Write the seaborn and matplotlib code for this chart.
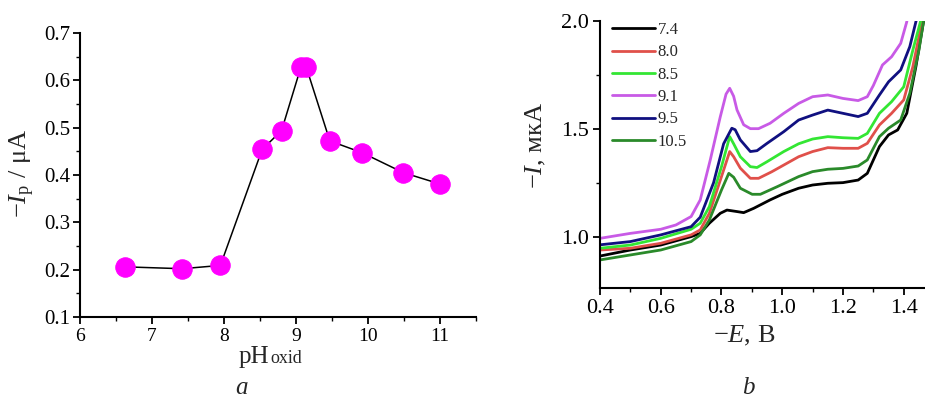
import numpy as np
import pandas as pd
import matplotlib
matplotlib.use('Agg')
import matplotlib.pyplot as plt
import seaborn as sns
from matplotlib.ticker import MultipleLocator

# ---------------- data: panel a ----------------
ph_oxid = [6.62, 7.42, 7.95, 8.53, 8.80, 9.07, 9.14, 9.47, 9.92, 10.49, 11.0]
ip_uA = [0.206, 0.202, 0.209, 0.454, 0.494, 0.629, 0.629, 0.472, 0.447, 0.405, 0.381]

# ---------------- data: panel b ----------------
ph_labels = ['7.4', '8.0', '8.5', '9.1', '9.5', '10.5']
curve_colors = ['#000000', '#e0504a', '#33e633', '#c85ae6', '#101080', '#2a8a2a']

E_74 = [0.40, 0.50, 0.60, 0.70, 0.73, 0.76, 0.796, 0.818, 0.851, 0.873, 0.906, 0.96, 1.00, 1.054, 1.10, 1.15, 1.20, 1.25, 1.28, 1.32, 1.35, 1.38, 1.41, 1.44, 1.465, 1.47]
I_74 = [0.910, 0.938, 0.961, 1.000, 1.015, 1.062, 1.108, 1.123, 1.116, 1.111, 1.131, 1.170, 1.196, 1.224, 1.239, 1.247, 1.250, 1.262, 1.293, 1.417, 1.471, 1.494, 1.571, 1.787, 1.995, 2.05]

E_80 = [0.40, 0.50, 0.60, 0.70, 0.73, 0.76, 0.80, 0.827, 0.84, 0.862, 0.895, 0.922, 0.965, 1.054, 1.10, 1.15, 1.20, 1.25, 1.28, 1.32, 1.36, 1.40, 1.43, 1.46, 1.47]
I_80 = [0.938, 0.946, 0.969, 1.008, 1.031, 1.108, 1.278, 1.394, 1.370, 1.317, 1.270, 1.270, 1.300, 1.370, 1.394, 1.412, 1.409, 1.409, 1.432, 1.517, 1.571, 1.633, 1.787, 1.995, 2.05]

E_85 = [0.40, 0.50, 0.60, 0.70, 0.73, 0.76, 0.80, 0.827, 0.84, 0.862, 0.895, 0.917, 0.95, 1.005, 1.054, 1.10, 1.15, 1.20, 1.25, 1.28, 1.32, 1.36, 1.40, 1.43, 1.455, 1.465]
I_85 = [0.946, 0.961, 0.992, 1.034, 1.062, 1.139, 1.324, 1.463, 1.430, 1.370, 1.324, 1.320, 1.347, 1.394, 1.430, 1.452, 1.463, 1.458, 1.455, 1.478, 1.571, 1.625, 1.694, 1.864, 1.995, 2.05]

E_91 = [0.40, 0.50, 0.60, 0.65, 0.70, 0.73, 0.763, 0.796, 0.815, 0.827, 0.84, 0.851, 0.873, 0.895, 0.922, 0.96, 1.005, 1.054, 1.10, 1.15, 1.20, 1.25, 1.28, 1.30, 1.33, 1.36, 1.39, 1.41, 1.415]
I_91 = [0.992, 1.015, 1.034, 1.054, 1.093, 1.170, 1.355, 1.555, 1.660, 1.687, 1.650, 1.587, 1.518, 1.500, 1.500, 1.525, 1.571, 1.617, 1.648, 1.656, 1.640, 1.630, 1.648, 1.700, 1.795, 1.833, 1.895, 1.995, 2.05]

E_95 = [0.40, 0.50, 0.60, 0.70, 0.73, 0.774, 0.807, 0.834, 0.845, 0.862, 0.895, 0.917, 0.95, 1.005, 1.054, 1.10, 1.15, 1.20, 1.25, 1.28, 1.32, 1.35, 1.39, 1.42, 1.44, 1.45]
I_95 = [0.962, 0.977, 1.008, 1.046, 1.090, 1.250, 1.430, 1.502, 1.495, 1.448, 1.394, 1.398, 1.432, 1.486, 1.540, 1.563, 1.586, 1.571, 1.556, 1.571, 1.656, 1.717, 1.772, 1.880, 1.995, 2.05]

E_105 = [0.40, 0.50, 0.60, 0.70, 0.73, 0.76, 0.80, 0.824, 0.84, 0.862, 0.901, 0.928, 0.983, 1.054, 1.10, 1.15, 1.20, 1.25, 1.28, 1.32, 1.35, 1.39, 1.42, 1.45, 1.465, 1.47]
I_105 = [0.892, 0.915, 0.938, 0.977, 1.008, 1.077, 1.216, 1.293, 1.275, 1.224, 1.196, 1.196, 1.231, 1.278, 1.301, 1.312, 1.316, 1.327, 1.355, 1.463, 1.502, 1.540, 1.664, 1.864, 1.995, 2.05]

curves_E = [E_74, E_80, E_85, E_91, E_95, E_105]
curves_I = [I_74, I_80, I_85, I_91, I_95, I_105]

# ---------------- style ----------------
sns.set_style('ticks')
plt.rcParams['font.family'] = ['Liberation Serif', 'DejaVu Serif']
plt.rcParams['mathtext.fontset'] = 'custom'
plt.rcParams['mathtext.rm'] = 'Liberation Serif'
plt.rcParams['mathtext.it'] = 'Liberation Serif:italic'
plt.rcParams['axes.linewidth'] = 1.5
plt.rcParams['xtick.major.width'] = 1.3
plt.rcParams['ytick.major.width'] = 1.3
plt.rcParams['xtick.minor.width'] = 1.0
plt.rcParams['ytick.minor.width'] = 1.0
plt.rcParams['xtick.major.size'] = 5
plt.rcParams['ytick.major.size'] = 5
plt.rcParams['xtick.minor.size'] = 3
plt.rcParams['ytick.minor.size'] = 3
plt.rcParams['xtick.color'] = 'black'
plt.rcParams['ytick.color'] = 'black'
plt.rcParams['axes.edgecolor'] = 'black'
plt.rcParams['lines.solid_joinstyle'] = 'round'

fig = plt.figure(figsize=(9.25, 4.0), dpi=100)

# ---------------- panel a ----------------
ax1 = fig.add_axes([80 / 925, 1 - 317 / 400, (476 - 80) / 925, (317 - 33) / 400])
sns.lineplot(x=ph_oxid, y=ip_uA, ax=ax1, color='black', lw=1.1, estimator=None, sort=False,
             marker='o', markersize=14, markerfacecolor='#ff00ff', markeredgecolor='#ff00ff')
ax1.set_xlim(6, 11.5)
ax1.set_ylim(0.1, 0.7)
ax1.xaxis.set_major_locator(MultipleLocator(1))
ax1.xaxis.set_minor_locator(MultipleLocator(0.5))
ax1.yaxis.set_minor_locator(MultipleLocator(0.05))
ax1.set_yticks([0.1, 0.2, 0.3, 0.4, 0.5, 0.6, 0.7])
ax1.set_yticklabels(['0.1', '0.2', '0.3', '0.4', '0.5', '0.6', '0.7'])
ax1.tick_params(axis='y', which='major', labelsize=15, pad=2)
ax1.tick_params(axis='x', which='major', labelsize=14, pad=3)
ax1.set_xlabel('')
ax1.set_ylabel(r'$-I_{\rm p}$ / μA', fontsize=19)
ax1.yaxis.set_label_coords(-0.108, 0.505)
sns.despine(ax=ax1)
fig.text(269 / 925, 1 - 363 / 400, 'pH', ha='right', va='baseline', fontsize=18)
fig.text(270 / 925, 1 - 363 / 400, 'oxid', ha='left', va='baseline', fontsize=13)
fig.text(242 / 925, 1 - 394 / 400, 'a', ha='center', va='baseline', fontsize=18, style='italic')

# ---------------- panel b ----------------
ax2 = fig.add_axes([600 / 925, 1 - 288 / 400, (925 - 600) / 925, (288 - 20.7) / 400])
frames = []
for lab, e, i in zip(ph_labels, curves_E, curves_I):
    frames.append(pd.DataFrame({'E': e, 'I': i, 'pH': lab}))
df = pd.concat(frames, ignore_index=True)
palette = dict(zip(ph_labels, curve_colors))
sns.lineplot(data=df, x='E', y='I', hue='pH', hue_order=ph_labels, palette=palette,
             estimator=None, sort=False, lw=2.0, ax=ax2)
ax2.set_xlim(0.4, 1.47)
ax2.set_ylim(0.762, 2.0)
ax2.set_yticks([1.0, 1.5, 2.0])
ax2.set_yticklabels(['1.0', '1.5', '2.0'])
ax2.yaxis.set_minor_locator(MultipleLocator(0.25))
ax2.set_xticks([0.4, 0.6, 0.8, 1.0, 1.2, 1.4])
ax2.set_xticklabels(['0.4', '0.6', '0.8', '1.0', '1.2', '1.4'])
ax2.xaxis.set_minor_locator(MultipleLocator(0.1))
ax2.tick_params(axis='both', which='major', labelsize=16, pad=3)
ax2.set_xlabel(r'$-E$, В', fontsize=19)
ax2.xaxis.set_label_coords(0.443, -0.205)
ax2.xaxis.label.set_va('baseline')
ax2.set_ylabel(r'$-I$, мкА', fontsize=19)
ax2.yaxis.set_label_coords(-0.16, 0.535)
sns.despine(ax=ax2)
handles, labels = ax2.get_legend_handles_labels()
ax2.legend(handles, labels, frameon=False, loc='upper left', bbox_to_anchor=(0.037, 0.995),
           borderaxespad=0, borderpad=0, fontsize=12, handlelength=2.6, handletextpad=0.15,
           labelspacing=0.38)
fig.text(748 / 925, 1 - 394 / 400, 'b', ha='center', va='baseline', fontsize=18, style='italic')

fig.savefig('out.png', dpi=100)
